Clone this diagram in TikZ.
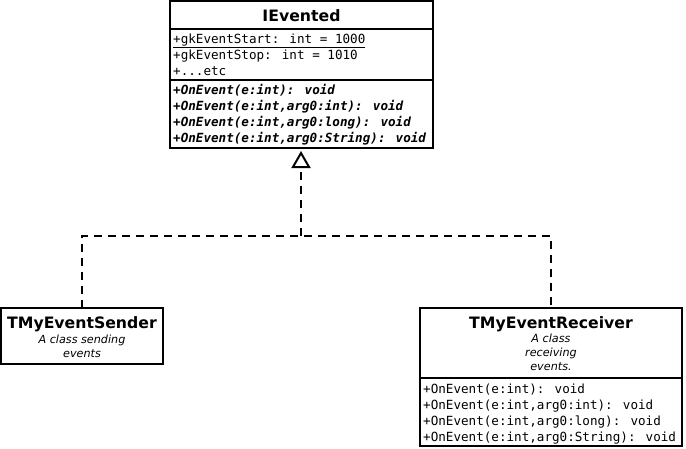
\documentclass[tikz,border=0pt]{standalone}
\usepackage{fontspec}
\setmainfont{DejaVu Sans}
\newfontfamily\monof{DejaVu Sans Mono}
\usetikzlibrary{arrows.meta}
\begin{document}
\begin{tikzpicture}[x=1pt,y=-1pt,
 box/.style={draw, line width=2pt, anchor=north west, inner sep=0pt, outer sep=0pt},
 title/.style={font=\fontsize{15.7}{18}\selectfont\bfseries, inner sep=0pt, anchor=base},
 desc/.style={font=\fontsize{11.2}{14}\selectfont\itshape, inner sep=0pt, align=center},
 member/.style={font=\monof\fontsize{12.6}{16}\selectfont, inner sep=0pt, anchor=base west},
 absmember/.style={member, font=\monof\fontsize{12.6}{16}\selectfont\bfseries\itshape},
 sep/.style={line width=2pt},
 realize/.style={dash pattern=on 8pt off 6pt, line width=2pt},
]
\useasboundingbox (0,0) rectangle (686,448);
% IEvented
\node[box, minimum width=263pt, minimum height=147pt] (iev) at (170,1) {};
\node[title] (ievt) at (301.5,21) {IEvented};
\draw[sep] (170,29) -- (433,29);
\draw[sep] (170,80) -- (433,80);
\node[member] (a1) at (173,43) {\underline{+gkEventStart: int = 1000}};
\node[member] (a2) at (173,59) {+gkEventStop: int = 1010};
\node[member] (a3) at (173,75) {+...etc};
\node[absmember] (m1) at (173,94) {+OnEvent(e:int): void};
\node[absmember] (m2) at (173,110) {+OnEvent(e:int,arg0:int): void};
\node[absmember] (m3) at (173,126) {+OnEvent(e:int,arg0:long): void};
\node[absmember] (m4) at (173,142) {+OnEvent(e:int,arg0:String): void};
% Sender
\node[box, minimum width=162pt, minimum height=56pt] (snd) at (1,308) {};
\node[title] (sndt) at (82,328) {TMyEventSender};
\node[desc] (sndd) at (82,346) {A class sending\\events};
% Receiver
\node[box, minimum width=262pt, minimum height=138pt] (rcv) at (420,308) {};
\node[title] (rcvt) at (551,328) {TMyEventReceiver};
\node[desc] (rcvd) at (551,352) {A class\\receiving\\events.};
\draw[sep] (420,378) -- (682,378);
\node[member] (r1) at (423,393) {+OnEvent(e:int): void};
\node[member] (r2) at (423,409) {+OnEvent(e:int,arg0:int): void};
\node[member] (r3) at (423,425) {+OnEvent(e:int,arg0:long): void};
\node[member] (r4) at (423,441) {+OnEvent(e:int,arg0:String): void};
% connectors
\coordinate (j) at (301,236);
\coordinate (top) at (301,151);
\draw[realize] (snd.north) |- (j) -| (rcv.north);
\draw[realize, -{Triangle[open, width=19pt, length=17pt, line width=2pt]}] (j) -- (top);
\end{tikzpicture}
\end{document}
